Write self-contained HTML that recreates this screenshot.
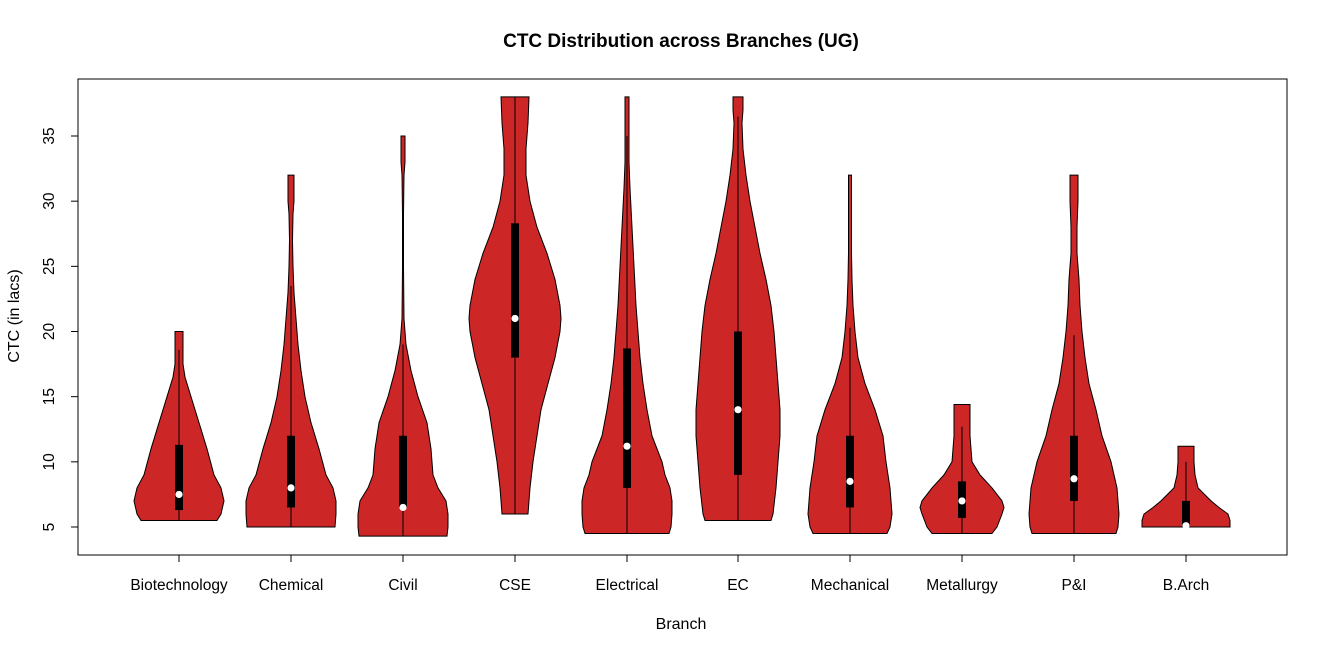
<!DOCTYPE html>
<html><head><meta charset="utf-8"><style>
html,body{margin:0;padding:0;background:#fff}
svg{display:block;font-family:"Liberation Sans",Arial,sans-serif}
</style></head><body>
<svg id="s" width="1327" height="653" xmlns="http://www.w3.org/2000/svg">
<rect width="1327" height="653" fill="#fff"/>
<text x="681" y="47" font-size="19" font-weight="bold" text-anchor="middle">CTC Distribution across Branches (UG)</text>
<text x="681" y="629" font-size="16" text-anchor="middle">Branch</text>
<text transform="translate(19,316) rotate(-90)" font-size="16" text-anchor="middle">CTC (in lacs)</text>
<g id="v"></g>
<rect x="78" y="79" width="1209" height="476" fill="none" stroke="#000" stroke-width="1"/>
<g id="ax"></g>
</svg>
<script>
var Y=function(v){return 527-(v-5)*13.033;};
var xs=[179,291,403,515,627,738,850,962,1074,1186];
var names=["Biotechnology","Chemical","Civil","CSE","Electrical","EC","Mechanical","Metallurgy","P&I","B.Arch"];
var D=[
{p:[[5.5,38],[6,42],[7,45],[8,42],[9,35],[11,28],[13,20],[15,12],[16.5,6],[17.5,4],[18,4],[18.2,4],[20,4]],b:[6.3,11.3],m:7.5,w:[5.5,18.6]},
{p:[[5,44],[6,45],[7,45],[8,42],[9,35],[11,28],[13,20],[15,14],[17,10],[19,7],[21,5],[23,3],[25,2],[27,1.5],[29,2],[30,3],[32,3]],b:[6.5,12],m:8,w:[5,23.5]},
{p:[[4.3,44],[5,45],[6,45],[7,43],[8,35],[9,30],[11,28],[13,24],[15,15],[17,8],[19,3],[21,1],[25,0.5],[29,0.5],[32,1],[33,2],[35,2]],b:[6.5,12],m:6.5,w:[4.3,19]},
{p:[[6,13],[8,15],[10,18],[12,22],[14,26],[16,33],[18,40],[20,45],[21,46],[22,45],[24,40],[26,32],[28,22],[30,15],[32,11],[34,11],[36,13],[38,14]],b:[18,28.3],m:21,w:[6,38]},
{p:[[4.5,42],[5,44],[6,45],[7,45],[8,43],[9,38],[10,35],[12,25],[14,20],[16,16],[18,13],[20,11],[22,9],[25,7],[28,5],[31,3],[33,2],[35,2],[37,2],[38,2]],b:[8,18.7],m:11.2,w:[4.5,35]},
{p:[[5.5,33],[6,35],[8,38],[10,40],[12,42],[14,42],[16,40],[18,38],[20,36],[22,33],[24,28],[26,22],[28,17],[30,12],[32,8],[34,5],[36,4],[37,5],[38,5]],b:[9,20],m:14,w:[5.5,36.5]},
{p:[[4.5,37],[5,40],[6,42],[8,40],[10,36],[12,33],[14,25],[16,15],[18,8],[20,5],[22,3],[24,2],[26,1.5],[28,1.5],[30,1.5],[32,1.5]],b:[6.5,12],m:8.5,w:[4.5,20.3]},
{p:[[4.5,30],[5,35],[6,40],[6.5,42],[7,40],[8,30],[9,18],[10,10],[11,9],[12,8],[13,8],[14.4,8]],b:[5.7,8.5],m:7,w:[4.5,12.7]},
{p:[[4.5,42],[5,44],[6,45],[8,43],[10,37],[12,28],[14,22],[16,15],[18,11],[20,8],[22,6],[24,5],[26,3],[28,3],[30,4],[32,4]],b:[7,12],m:8.7,w:[4.5,19.7]},
{p:[[5,44],[5.5,44],[6,42],[6.5,33],[7,25],[8,12],[9,9],[10,8],[11.2,8]],b:[5,7],m:5.1,w:[5,10]}
];
var g="",a="";
D.forEach(function(d,i){
 var x=xs[i],pts=[];
 d.p.forEach(function(q){pts.push((x+q[1]).toFixed(1)+","+Y(q[0]).toFixed(1));});
 for(var k=d.p.length-1;k>=0;k--){var q=d.p[k];pts.push((x-q[1]).toFixed(1)+","+Y(q[0]).toFixed(1));}
 g+='<polygon points="'+pts.join(" ")+'" fill="#cd2626" stroke="#000" stroke-width="1"/>';
 g+='<line x1="'+x+'" x2="'+x+'" y1="'+Y(d.w[0])+'" y2="'+Y(d.w[1])+'" stroke="#000" stroke-width="1"/>';
 g+='<rect x="'+(x-4)+'" y="'+Y(d.b[1])+'" width="8" height="'+(Y(d.b[0])-Y(d.b[1]))+'" fill="#000"/>';
 g+='<circle cx="'+x+'" cy="'+Y(d.m)+'" r="3.6" fill="#fff"/>';
 a+='<line x1="'+x+'" x2="'+x+'" y1="555" y2="562" stroke="#000"/>';
 a+='<text x="'+x+'" y="590" font-size="15.5" text-anchor="middle">'+names[i].replace("&","&amp;")+'</text>';
});
[5,10,15,20,25,30,35].forEach(function(v){
 var y=Y(v);
 a+='<line x1="71" x2="78" y1="'+y+'" y2="'+y+'" stroke="#000"/>';
 a+='<text transform="translate(54,'+y+') rotate(-90)" font-size="15.5" text-anchor="middle">'+v+'</text>';
});
document.getElementById("v").innerHTML=g;
document.getElementById("ax").innerHTML=a;
</script>
</body></html>
